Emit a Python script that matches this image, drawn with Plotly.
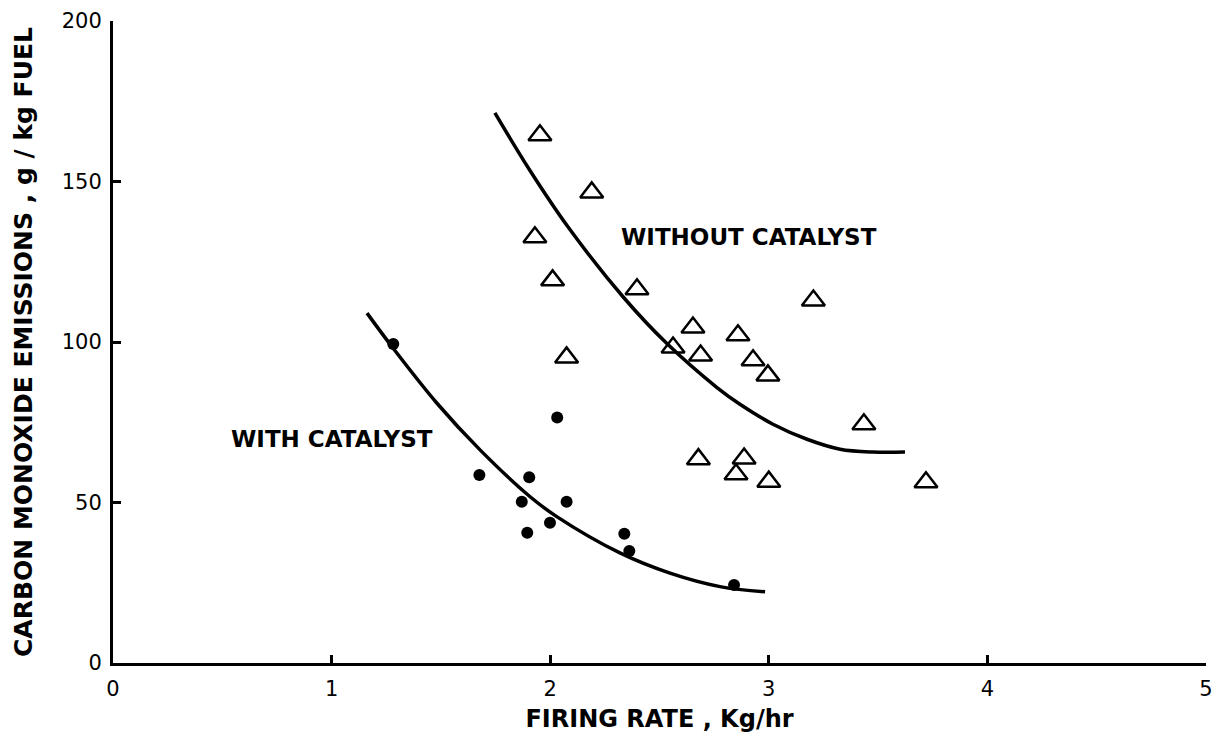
import plotly.graph_objects as go

# ---- data ----
with_cat_x = [1.282, 2.032, 1.676, 1.904, 1.870, 2.075, 1.999, 1.895, 2.339, 2.362, 2.841]
with_cat_y = [99.4, 76.5, 58.6, 57.9, 50.2, 50.2, 43.7, 40.6, 40.3, 34.9, 24.3]

without_cat_x = [1.953, 2.190, 1.930, 2.011, 2.397, 2.075, 3.204, 2.653, 2.562, 2.688,
                 2.859, 2.928, 2.996, 3.435, 3.719, 2.678, 2.887, 2.850, 3.000]
without_cat_y = [164.4, 146.6, 132.6, 119.2, 116.4, 95.2, 112.9, 104.5, 98.3, 95.8,
                 102.1, 94.3, 89.6, 74.4, 56.3, 63.5, 63.7, 58.8, 56.5]

fit_without_x = [1.747, 1.903, 2.081, 2.333, 2.534, 2.763, 2.868, 3.019, 3.175, 3.326, 3.477, 3.623]
fit_without_y = [171.4, 153.9, 135.9, 114.1, 99.5, 85.8, 80.6, 74.4, 69.7, 66.6, 65.7, 65.7]

fit_with_x = [1.162, 1.281, 1.481, 1.679, 1.908, 2.030, 2.319, 2.548, 2.777, 2.983]
fit_with_y = [109.0, 98.1, 81.0, 66.4, 51.8, 45.6, 34.3, 28.0, 23.8, 22.2]

x_ticks = [0, 1, 2, 3, 4, 5]
x_tick_labels = ["0", "1", "2", "3", "4", "5"]
y_ticks = [0, 50, 100, 150, 200]
y_tick_labels = ["0", "50", "100", "150", "200"]

FONT = "DejaVu Sans"

fig = go.Figure()
fig.add_trace(go.Scatter(x=fit_without_x, y=fit_without_y, mode="lines",
                         line=dict(color="black", width=3.5, shape="spline", smoothing=1.0),
                         name="Without catalyst fit", showlegend=False, hoverinfo="skip"))
fig.add_trace(go.Scatter(x=fit_with_x, y=fit_with_y, mode="lines",
                         line=dict(color="black", width=3.5, shape="spline", smoothing=1.0),
                         name="With catalyst fit", showlegend=False, hoverinfo="skip"))
fig.add_trace(go.Scatter(x=without_cat_x, y=without_cat_y, mode="markers",
                         marker=dict(symbol="triangle-up-open", size=20, color="black",
                                     line=dict(color="black", width=2.5)),
                         name="Without catalyst", showlegend=False))
fig.add_trace(go.Scatter(x=with_cat_x, y=with_cat_y, mode="markers",
                         marker=dict(symbol="circle", size=12, color="black"),
                         name="With catalyst", showlegend=False))

fig.add_annotation(x=2.909, y=132.8, text="WITHOUT CATALYST", showarrow=False,
                   font=dict(family=FONT, size=23, color="black", weight="bold"),
                   xanchor="center", yanchor="middle")
fig.add_annotation(x=1.0, y=69.8, text="WITH CATALYST", showarrow=False,
                   font=dict(family=FONT, size=23, color="black", weight="bold"),
                   xanchor="center", yanchor="middle")

axis_common = dict(showgrid=False, zeroline=False, showline=True, linecolor="black",
                   linewidth=3, ticks="inside", ticklen=8, tickwidth=2.5, tickcolor="black",
                   tickfont=dict(family=FONT, size=21, color="black"), mirror=False,
                   ticklabeloverflow="allow")

fig.update_xaxes(range=[0, 5], tickvals=x_ticks, ticktext=x_tick_labels,
                 title=dict(text="FIRING RATE , Kg/hr", standoff=10,
                            font=dict(family=FONT, size=24, color="black", weight="bold")),
                 ticklabelstandoff=5, **axis_common)
fig.update_yaxes(range=[0, 200], tickvals=y_ticks, ticktext=y_tick_labels,
                 title=dict(text="CARBON MONOXIDE EMISSIONS , g / kg FUEL", standoff=22,
                            font=dict(family=FONT, size=25, color="black", weight="bold")),
                 ticklabelstandoff=4, **axis_common)

fig.update_layout(width=1217, height=740, plot_bgcolor="white", paper_bgcolor="white",
                  margin=dict(l=113, r=11, t=21, b=77, autoexpand=False),
                  showlegend=False)

fig.write_html("out.html", config={"displayModeBar": False},
               post_script="document.body.style.margin='0';document.body.style.padding='0';")
